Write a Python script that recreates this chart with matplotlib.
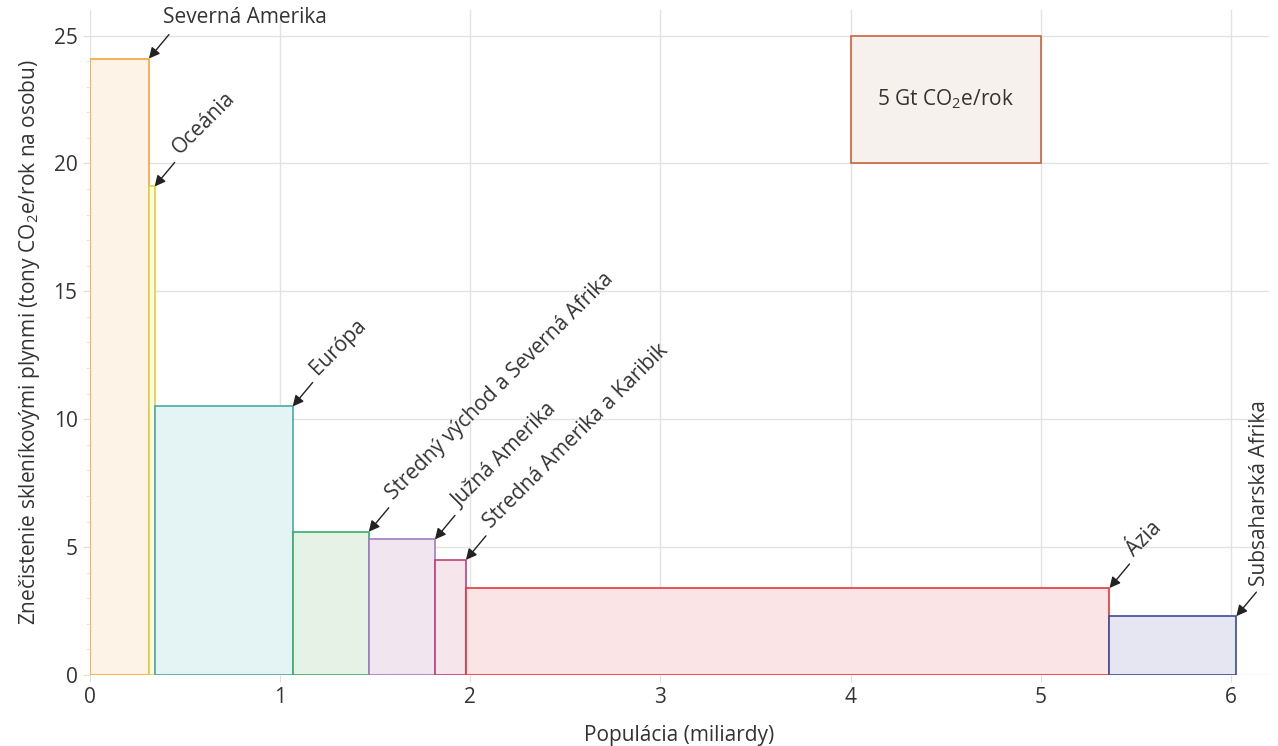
import numpy as np
import matplotlib
matplotlib.use("Agg")
import matplotlib.pyplot as plt
from matplotlib.patches import Rectangle

plt.rcParams["font.family"] = ["Open Sans", "DejaVu Sans"]
plt.rcParams["mathtext.default"] = "regular"

# regions, population (billions) and emissions per person (t CO2e / year)
regions = ["Severná Amerika", "Oceánia", "Európa", "Stredný východ a Severná Afrika",
           "Južná Amerika", "Stredná Amerika a Karibik", "Ázia", "Subsaharská Afrika"]
population = [0.31, 0.03, 0.726, 0.40, 0.348, 0.163, 3.384, 0.667]
per_person = [24.1, 19.1, 10.5, 5.6, 5.3, 4.5, 3.4, 2.3]
edge_colors = ["#f5a53a", "#e0d03a", "#4aa9a6", "#3aad6a", "#a27cc0", "#c0407a", "#e8343c", "#3d4a9a"]
fill_colors = ["#fdf4e7", "#fdfbe6", "#e4f3f3", "#e7f2e6", "#f1e5f0", "#f6e5eb", "#fbe4e6", "#e6e6f2"]

label_rot = [0, 45, 45, 45, 45, 45, 45, 90]

# scale box: 1 billion people x 5 t = 5 Gt
scale_x, scale_y, scale_w, scale_h = 4, 20, 1, 5
scale_text = "5 Gt CO$_2$e/rok"

FS = 15
TXT = "#333333"

fig = plt.figure(figsize=(12.78, 7.46), dpi=100)
ax = fig.add_axes([0.0704, 0.0952, 0.9226, 0.8914])

ax.set_xlim(0, 6.2)
ax.set_ylim(0, 26)
ax.set_xticks(range(0, 7))
ax.set_yticks(range(0, 26, 5))
ax.set_yticks(range(0, 26), minor=True)
ax.grid(True, which="major", color="#e3e3e3", lw=1)
ax.set_axisbelow(True)
for s in ax.spines.values():
    s.set_visible(False)
ax.tick_params(axis="both", which="major", length=5, color="#dddddd",
               labelsize=FS, labelcolor=TXT, pad=4)
ax.tick_params(axis="y", which="minor", length=3, color="#dddddd")
ax.tick_params(axis="x", which="minor", length=0)

ax.set_xlabel("Populácia (miliardy)", fontsize=FS, color=TXT, labelpad=12)
ax.set_ylabel("Znečistenie skleníkovými plynmi (tony CO$_2$e/rok na osobu)",
              fontsize=FS, color=TXT, labelpad=8)

left = np.concatenate(([0], np.cumsum(population)[:-1]))
for i, name in enumerate(regions):
    x0, w, h = left[i], population[i], per_person[i]
    ax.add_patch(Rectangle((x0, 0), w, h, facecolor=fill_colors[i],
                           edgecolor=edge_colors[i], lw=1.2, zorder=2))
    corner = (x0 + w, h)
    ax.annotate("", xy=corner, xycoords="data", xytext=(20, 24),
                textcoords="offset pixels",
                arrowprops=dict(arrowstyle="-|>", color="#222222", lw=1,
                                mutation_scale=16, shrinkA=0, shrinkB=0),
                zorder=4)
    rot = label_rot[i]
    if rot == 0:
        ax.annotate(name, xy=corner, xytext=(14, 36), textcoords="offset pixels",
                    ha="left", va="baseline", fontsize=FS, color=TXT)
    elif rot == 45:
        ax.annotate(name, xy=corner, xytext=(25, 31), textcoords="offset pixels",
                    ha="left", va="baseline", rotation=45, rotation_mode="anchor",
                    fontsize=FS, color=TXT)
    else:
        ax.annotate(name, xy=corner, xytext=(29, 30), textcoords="offset pixels",
                    ha="left", va="baseline", rotation=90, rotation_mode="anchor",
                    fontsize=FS, color=TXT)

ax.add_patch(Rectangle((scale_x, scale_y), scale_w, scale_h, facecolor="#f7f1ee",
                       edgecolor="#c8643c", lw=1.2, zorder=2))
ax.text(scale_x + scale_w / 2, scale_y + scale_h / 2, scale_text, ha="center",
        va="center", fontsize=FS, color=TXT, zorder=3)

fig.savefig("out.png", dpi=100)
